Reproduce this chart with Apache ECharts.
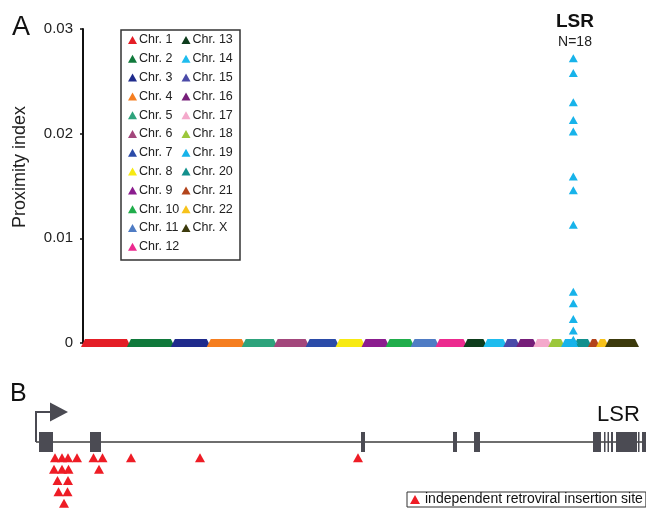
<!DOCTYPE html>
<html><head><meta charset="utf-8">
<script src="https://cdn.jsdelivr.net/npm/echarts@6/dist/echarts.min.js"></script>
<style>html,body{margin:0;padding:0;background:#fff}#c{width:646px;height:510px}</style>
</head><body><div id="c"></div>
<script>
// ---------- Panel A data ----------
const chromosomes = ['Chr. 1','Chr. 2','Chr. 3','Chr. 4','Chr. 5','Chr. 6','Chr. 7','Chr. 8','Chr. 9','Chr. 10','Chr. 11','Chr. 12',
  'Chr. 13','Chr. 14','Chr. 15','Chr. 16','Chr. 17','Chr. 18','Chr. 19','Chr. 20','Chr. 21','Chr. 22','Chr. X'];
const chromLengthsMb = [256,245,200,195,178,178,167,145,134,139,139,156,111,111,72,95,83,72,67,83,45,50,167];
const chromColors = ['#e41e26','#10793b','#1f2b8c','#f57e20','#2ea37c','#a3477c','#2b4ba8','#f7ea12','#8b1d8e','#20ad4b','#4f7cc4','#ec2a8f',
  '#0e3d1d','#1ebcee','#4b4aa8','#761e79','#f4a9cb','#9cc73b','#17b3ea','#12908d','#b3441c','#f7c21a','#3c3a0c'];
const lsrChrom = 'Chr. 19';
const lsrOffsetMb = 57;
const lsrProximity = [0.0272,0.0258,0.0230,0.0213,0.0202,0.0159,0.0146,0.0113,0.0049,0.0038,0.0023,0.0012,0.0003,0,0,0,0,0];
const yMin = 0, yMax = 0.03, yStep = 0.01;

// ---------- Panel B data (kb from transcription start) ----------
const geneSpanKb = [0, 61];
const tssKb = [0];
const exonsKb = [[0.3,1.7],[5.4,6.5],[32.5,32.9],[41.7,42.1],[43.8,44.4],[55.7,56.5],[56.8,56.95],[57.15,57.3],[57.5,57.7],[58.0,60.1],[60.2,60.35],[60.6,61.0]];
const insertionKb  = [1.9,2.6,3.2,4.1,5.75,6.65,9.5,16.4,32.2, 1.8,2.6,3.25,6.3, 2.15,3.2, 2.25,3.15, 2.8];
const insertionRow = [1,1,1,1,1,1,1,1,1, 2,2,2,2, 3,3, 4,4, 5];

// ---------- derived ----------
const FONT = 'Liberation Sans, Arial, Helvetica, sans-serif';
const chromStart = [];
let acc = 0;
chromLengthsMb.forEach(l => { chromStart.push(acc); acc += l; });
const totalMb = acc;
const lsrIdx = chromosomes.indexOf(lsrChrom);
const lsrX = chromStart[lsrIdx] + lsrOffsetMb;

const bandSeries = chromosomes.map((name, i) => ({
  type: 'custom', name: name, xAxisIndex: 0, yAxisIndex: 0,
  color: chromColors[i], itemStyle: {color: chromColors[i]},
  encode: {x: [0, 1]}, z: 2,
  data: [[chromStart[i], chromStart[i] + chromLengthsMb[i]]],
  renderItem: (params, api) => {
    const s = api.coord([api.value(0), 0]);
    const e = api.coord([api.value(1), 0]);
    const h = 4, d = 2;
    return {type: 'polygon', shape: {points: [[s[0]-d, s[1]+h],[e[0]+d, s[1]+h],[e[0]-d, s[1]-h],[s[0]+d, s[1]-h]]},
      style: {fill: api.visual('color')}};
  }
}));

const option = {
  animation: false,
  backgroundColor: '#fff',
  textStyle: {fontFamily: FONT},
  grid: [
    {left: 83, right: 9, top: 29, height: 314},
    {left: 36, right: 0, top: 442, height: 69}
  ],
  xAxis: [
    {gridIndex: 0, type: 'value', min: 0, max: totalMb, show: false},
    {gridIndex: 1, type: 'value', min: geneSpanKb[0], max: geneSpanKb[1], show: false}
  ],
  yAxis: [
    {gridIndex: 0, type: 'value', min: yMin, max: yMax, interval: yStep,
      axisLine: {show: true, lineStyle: {color: '#111', width: 2}},
      axisTick: {show: true, length: 3, lineStyle: {color: '#111', width: 1.5}},
      axisLabel: {fontSize: 15, color: '#222', margin: 10, fontFamily: FONT},
      splitLine: {show: false}},
    {gridIndex: 1, type: 'value', min: 0, max: 6, inverse: true, show: false}
  ],
  legend: [
    {data: chromosomes.slice(0, 12), orient: 'vertical', left: 128, top: 33, padding: 0,
      icon: 'triangle', itemWidth: 9, itemHeight: 8, itemGap: 4.8, selectedMode: false,
      textStyle: {fontSize: 12.5, color: '#222', lineHeight: 14, fontFamily: FONT, padding: [0,0,0,-3]}},
    {data: chromosomes.slice(12), orient: 'vertical', left: 181.5, top: 33, padding: 0,
      icon: 'triangle', itemWidth: 9, itemHeight: 8, itemGap: 4.8, selectedMode: false,
      textStyle: {fontSize: 12.5, color: '#222', lineHeight: 14, fontFamily: FONT, padding: [0,0,0,-3]}},
    {data: ['independent retroviral insertion site'], orient: 'horizontal', left: 407, top: 492,
      padding: [0, 3, 0, 3], borderColor: '#333', borderWidth: 1,
      icon: 'triangle', itemWidth: 10, itemHeight: 9, selectedMode: false,
      textStyle: {fontSize: 14, color: '#111', lineHeight: 15, fontFamily: FONT}}
  ],
  graphic: [
    {type: 'rect', shape: {x: 121, y: 30, width: 119, height: 230}, style: {fill: 'none', stroke: '#333', lineWidth: 1.5}, z: 10},
    {type: 'text', x: 12, y: 27.5, style: {text: 'A', font: '27px ' + FONT, fill: '#111', align: 'left', verticalAlign: 'middle'}},
    {type: 'text', x: 10, y: 394, style: {text: 'B', font: '25px ' + FONT, fill: '#111', align: 'left', verticalAlign: 'middle'}},
    {type: 'text', x: 20, y: 167, rotation: Math.PI / 2, style: {text: 'Proximity index', font: '18px ' + FONT, fill: '#222', align: 'center', verticalAlign: 'middle'}},
    {type: 'text', x: 575, y: 21.5, style: {text: 'LSR', font: 'bold 19px ' + FONT, fill: '#111', align: 'center', verticalAlign: 'middle'}},
    {type: 'text', x: 575, y: 42.5, style: {text: 'N=' + lsrProximity.length, font: '14px ' + FONT, fill: '#222', align: 'center', verticalAlign: 'middle'}},
    {type: 'text', x: 618.5, y: 415, style: {text: 'LSR', font: '22px ' + FONT, fill: '#111', align: 'center', verticalAlign: 'middle'}}
  ],
  series: bandSeries.concat([
    {type: 'scatter', name: lsrChrom, xAxisIndex: 0, yAxisIndex: 0, z: 5,
      symbol: 'triangle', symbolSize: [9, 8], itemStyle: {color: chromColors[lsrIdx], opacity: 1},
      data: lsrProximity.map(v => [lsrX, v])},
    {type: 'custom', name: 'gene', xAxisIndex: 1, yAxisIndex: 1, z: 2,
      data: [geneSpanKb], encode: {x: [0, 1]},
      renderItem: (params, api) => {
        const s = api.coord([api.value(0), 0]);
        const e = api.coord([api.value(1), 0]);
        return {type: 'line', shape: {x1: s[0], y1: s[1], x2: e[0] + 2, y2: s[1]}, style: {stroke: '#6e6e6e', lineWidth: 2}};
      }},
    {type: 'custom', name: 'exons', xAxisIndex: 1, yAxisIndex: 1, z: 3,
      data: exonsKb, encode: {x: [0, 1]},
      renderItem: (params, api) => {
        const s = api.coord([api.value(0), 0]);
        const e = api.coord([api.value(1), 0]);
        return {type: 'rect', shape: {x: s[0], y: s[1] - 10, width: Math.max(e[0] - s[0], 1.5), height: 20}, style: {fill: '#4b4b53'}};
      }},
    {type: 'custom', name: 'tss', xAxisIndex: 1, yAxisIndex: 1, z: 3,
      data: tssKb.map(v => [v, 0]),
      renderItem: (params, api) => {
        const p = api.coord([api.value(0), 0]);
        const x = p[0], y = p[1];
        return {type: 'group', children: [
          {type: 'polyline', shape: {points: [[x, y], [x, y - 30], [x + 16, y - 30]]}, style: {stroke: '#4a4a52', lineWidth: 2, fill: 'none'}},
          {type: 'polygon', shape: {points: [[x + 14, y - 39.5], [x + 32, y - 30], [x + 14, y - 20.5]]}, style: {fill: '#4a4a52'}}
        ]};
      }},
    {type: 'scatter', name: 'independent retroviral insertion site', xAxisIndex: 1, yAxisIndex: 1, z: 4,
      symbol: 'triangle', symbolSize: [10, 9], symbolOffset: [0, 4.5], itemStyle: {color: '#ee1c25', opacity: 1},
      data: insertionKb.map((k, i) => [k, insertionRow[i]])}
  ])
};
const chart = echarts.init(document.getElementById('c'), null, {renderer: 'canvas'});
chart.setOption(option);
</script></body></html>
